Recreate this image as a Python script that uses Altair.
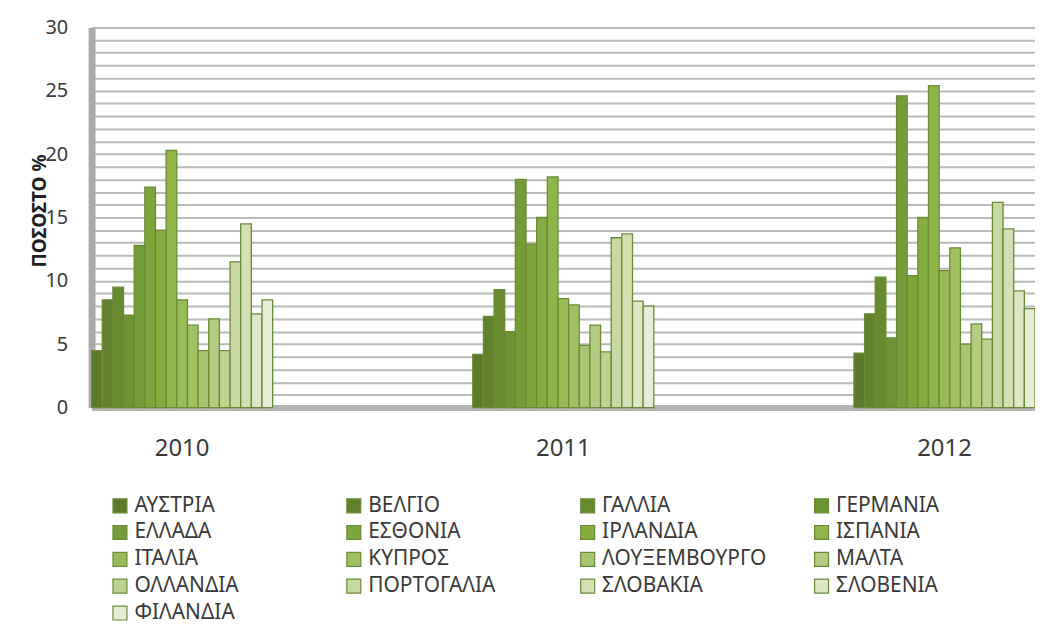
import altair as alt
import pandas as pd

years = ["2010", "2011", "2012"]
countries = ["ΑΥΣΤΡΙΑ", "ΒΕΛΓΙΟ", "ΓΑΛΛΙΑ", "ΓΕΡΜΑΝΙΑ", "ΕΛΛΑΔΑ", "ΕΣΘΟΝΙΑ",
             "ΙΡΛΑΝΔΙΑ", "ΙΣΠΑΝΙΑ", "ΙΤΑΛΙΑ", "ΚΥΠΡΟΣ", "ΛΟΥΞΕΜΒΟΥΡΓΟ", "ΜΑΛΤΑ",
             "ΟΛΛΑΝΔΙΑ", "ΠΟΡΤΟΓΑΛΙΑ", "ΣΛΟΒΑΚΙΑ", "ΣΛΟΒΕΝΙΑ", "ΦΙΛΑΝΔΙΑ"]
v2010 = [4.5, 8.5, 9.5, 7.3, 12.8, 17.4, 14.0, 20.3, 8.5, 6.5, 4.5, 7.0, 4.5, 11.5, 14.5, 7.4, 8.5]
v2011 = [4.2, 7.2, 9.3, 6.0, 18.0, 12.9, 15.0, 18.2, 8.6, 8.1, 4.9, 6.5, 4.4, 13.4, 13.7, 8.4, 8.0]
v2012 = [4.3, 7.4, 10.3, 5.5, 24.6, 10.4, 15.0, 25.4, 10.8, 12.6, 5.0, 6.6, 5.4, 16.2, 14.1, 9.2, 7.8]
colors = ["#5A7A2A", "#61812C", "#678A30", "#6E9333", "#769C37", "#7EA53C",
          "#86AD42", "#8FB54A", "#98BC55", "#A1C062", "#AAC571", "#B4CB81",
          "#BED292", "#C8D9A3", "#D2E0B4", "#DCE7C5", "#E6EDD6"]
y_ticks = list(range(0, 31))

rows = []
for yr, vals in zip(years, [v2010, v2011, v2012]):
    for c, v in zip(countries, vals):
        rows.append({"year": yr, "country": c, "value": v})
df = pd.DataFrame(rows)

FONT = "Noto Sans"
TXT = "#3A3A3A"

chart = alt.Chart(df).mark_bar(stroke="#6B8A38", strokeWidth=1.3).encode(
    x=alt.X("year:N", sort=years,
            scale=alt.Scale(paddingInner=0.525, paddingOuter=0),
            axis=alt.Axis(title=None, labelAngle=0, labelFontSize=24, labelPadding=29,
                          labelColor=TXT, labelFont=FONT, ticks=False, tickSize=0,
                          domainColor="#B3B7B3", domainWidth=6)),
    xOffset=alt.XOffset("country:N", sort=countries,
                        scale=alt.Scale(paddingInner=0, paddingOuter=0)),
    y=alt.Y("value:Q", scale=alt.Scale(domain=[0, 30], nice=False),
            axis=alt.Axis(values=y_ticks,
                          labelExpr="datum.value % 5 === 0 ? datum.label : ''",
                          grid=True, gridColor="#B7BCB7", gridWidth=2,
                          ticks=False, tickSize=0, labelPadding=24,
                          labelFontSize=20, labelColor=TXT, labelFont=FONT,
                          domainColor="#A9ADA9", domainWidth=7,
                          title="ΠΟΣΟΣΤΟ %", titleFont=FONT, titleFontSize=19,
                          titleFontWeight="bold", titleColor="#202020",
                          titleX=-42, titleY=184)),
    color=alt.Color("country:N", sort=countries,
                    scale=alt.Scale(domain=countries, range=colors),
                    legend=alt.Legend(title=None, orient="none", legendX=18, legendY=470,
                                      direction="horizontal",
                                      columns=4, gridAlign="all", columnPadding=44,
                                      rowPadding=5, symbolType="square", symbolSize=196,
                                      symbolStrokeColor="#6B8A38", symbolStrokeWidth=1.2,
                                      labelFont=FONT, labelFontSize=21, labelColor=TXT,
                                      labelLimit=400, labelOffset=4)),
).properties(
    width=948, height=382,
    autosize=alt.AutoSizeParams(type="none"),
    padding={"left": 84, "top": 18, "right": 0, "bottom": 216},
).configure_view(
    fill="#EDF2EB", stroke=None
).configure(background="white")

chart.save("out.html", embed_options={"renderer": "svg", "actions": False})
